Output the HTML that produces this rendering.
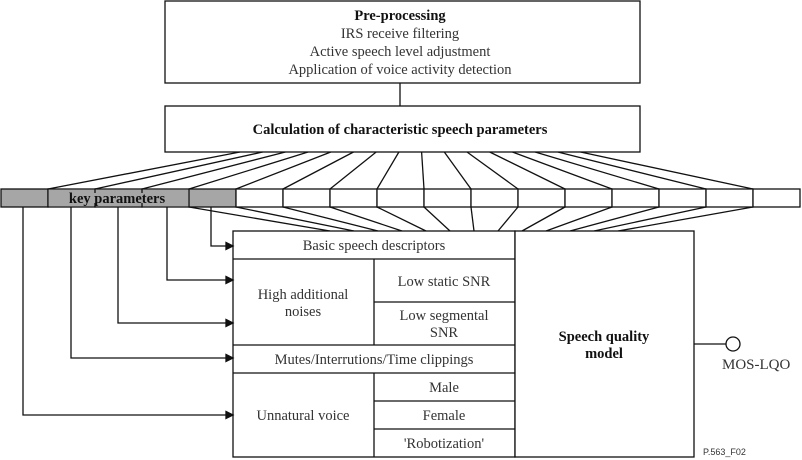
<!DOCTYPE html>
<html><head><meta charset="utf-8"><style>
html,body{margin:0;padding:0;background:#fff}
svg{display:block}
text{font-family:"Liberation Serif",serif;fill:#333}
.b{font-weight:bold;fill:#111}
</style></head><body>
<svg width="802" height="460" viewBox="0 0 802 460">
<g stroke="#111" stroke-width="1.3" fill="none">
  <rect x="165" y="1" width="475" height="82" fill="#fff"/>
  <line x1="400" y1="83" x2="400" y2="106"/>
  <rect x="165" y="106" width="475" height="46" fill="#fff"/>
  <g id="fan"></g>
  <g id="cells"></g>
  <rect x="233" y="231" width="282" height="226" fill="#fff"/>
  <rect x="515" y="231" width="179" height="226" fill="#fff"/>
  <line x1="233" y1="259" x2="515" y2="259"/>
  <line x1="233" y1="345" x2="515" y2="345"/>
  <line x1="233" y1="373" x2="515" y2="373"/>
  <line x1="374" y1="259" x2="374" y2="345"/>
  <line x1="374" y1="373" x2="374" y2="457"/>
  <line x1="374" y1="302" x2="515" y2="302"/>
  <line x1="374" y1="401" x2="515" y2="401"/>
  <line x1="374" y1="429" x2="515" y2="429"/>
  <line x1="694" y1="344" x2="726" y2="344"/>
  <circle cx="733" cy="344" r="7" fill="#fff"/>
  <g id="arrows"></g>
</g>
<text x="400" y="20" text-anchor="middle" font-size="14.5" class="b">Pre-processing</text>
<text x="400" y="38" text-anchor="middle" font-size="14.5">IRS receive filtering</text>
<text x="400" y="56" text-anchor="middle" font-size="14.5">Active speech level adjustment</text>
<text x="400" y="74" text-anchor="middle" font-size="14.5">Application of voice activity detection</text>
<text x="400" y="134" text-anchor="middle" font-size="14.5" class="b">Calculation of characteristic speech parameters</text>
<text x="117" y="203" text-anchor="middle" font-size="14.5" class="b">key parameters</text>
<text x="374" y="250" text-anchor="middle" font-size="14.5">Basic speech descriptors</text>
<text x="303" y="299" text-anchor="middle" font-size="14.5">High additional</text>
<text x="303" y="316" text-anchor="middle" font-size="14.5">noises</text>
<text x="444" y="286" text-anchor="middle" font-size="14.5">Low static SNR</text>
<text x="444" y="320" text-anchor="middle" font-size="14.5">Low segmental</text>
<text x="444" y="337" text-anchor="middle" font-size="14.5">SNR</text>
<text x="374" y="364" text-anchor="middle" font-size="14.5">Mutes/Interrutions/Time clippings</text>
<text x="303" y="420" text-anchor="middle" font-size="14.5">Unnatural voice</text>
<text x="444" y="392" text-anchor="middle" font-size="14.5">Male</text>
<text x="444" y="420" text-anchor="middle" font-size="14.5">Female</text>
<text x="444" y="448" text-anchor="middle" font-size="14.5">'Robotization'</text>
<text x="604" y="341" text-anchor="middle" font-size="14.5" class="b">Speech quality</text>
<text x="604" y="358" text-anchor="middle" font-size="14.5" class="b">model</text>
<text x="722" y="369" font-size="15">MOS-LQO</text>
<text x="703" y="455" font-size="9" style="font-family:'Liberation Sans',sans-serif">P.563_F02</text>
</svg>
<script>
var NS="http://www.w3.org/2000/svg";
function mk(parent,tag,attrs){var e=document.createElementNS(NS,tag);for(var k in attrs)e.setAttribute(k,attrs[k]);parent.appendChild(e);return e;}
var cells=document.getElementById('cells'),fan=document.getElementById('fan'),arrows=document.getElementById('arrows');
for(var i=0;i<17;i++){
  var x=1+i*47;
  var grey=(i<=4);
  var r=mk(cells,'rect',{x:x,y:189,width:47,height:18,fill:grey?'#a6a6a6':'#fff'});
  
  
}
mk(cells,'rect',{x:48.7,y:189.7,width:139.6,height:16.6,fill:'#a6a6a6',stroke:'none'});
mk(cells,'line',{x1:95,y1:189,x2:95,y2:193});mk(cells,'line',{x1:95,y1:203,x2:95,y2:207});
mk(cells,'line',{x1:142,y1:189,x2:142,y2:193});mk(cells,'line',{x1:142,y1:203,x2:142,y2:207});
for(var j=0;j<16;j++){
  var l=mk(fan,'line',{x1:240+j*22.7,y1:152,x2:48+j*47,y2:189});
  
  
}
for(var k=0;k<13;k++){
  var l2=mk(fan,'line',{x1:189+k*47,y1:207,x2:330+k*24,y2:231});
  
  
}
var arr=[[211,246],[167,280],[118,323],[71,358],[23,415]];
arr.forEach(function(a){
  var p=mk(arrows,'polyline',{points:a[0]+',207 '+a[0]+','+a[1]+' 228,'+a[1]});
  
  
  mk(arrows,'polygon',{points:'226,'+(a[1]-3.5)+' 233,'+a[1]+' 226,'+(a[1]+3.5),fill:'#111'});
});
</script>
</body></html>
